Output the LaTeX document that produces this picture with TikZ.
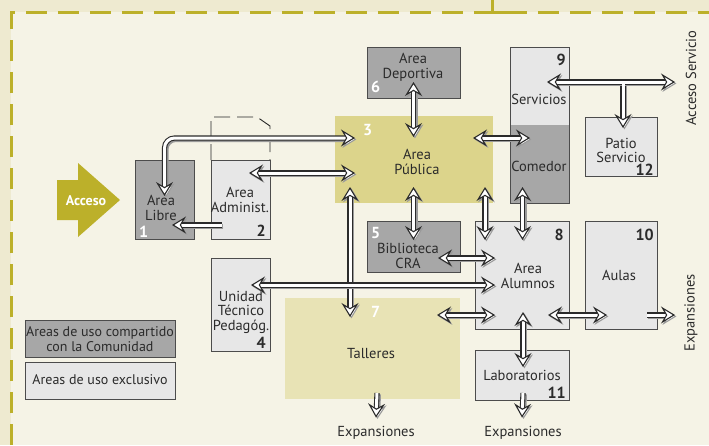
\documentclass[tikz,border=0pt]{standalone}
\usepackage{fontspec}
\setmainfont{PT Sans}
\usetikzlibrary{arrows.meta,calc}
\definecolor{outerbg}{HTML}{EEEAD0}
\definecolor{innerbg}{HTML}{F5F3E6}
\definecolor{olive}{HTML}{BCB02A}
\definecolor{boxdark}{HTML}{A7A7A7}
\definecolor{boxlight}{HTML}{E7E7E7}
\definecolor{pubfill}{HTML}{DCD48B}
\definecolor{tallfill}{HTML}{E8E3B5}
\definecolor{ink}{HTML}{2B2B2B}
\definecolor{shade}{HTML}{9A9A9A}
\newcommand\lblfont{\fontsize{14.5}{15}\selectfont}
\newcommand\numfont{\fontsize{16}{16}\selectfont\bfseries}
\begin{document}
\begin{tikzpicture}[x=1pt,y=-1pt,
  box/.style={draw=black!70, line width=0.8pt, inner sep=0pt, outer sep=0pt},
  darkbox/.style={box, fill=boxdark},
  lightbox/.style={box, fill=boxlight},
  zone/.style={inner sep=0pt, outer sep=0pt},
  lbl/.style={text=ink, font=\lblfont, align=center, inner sep=0pt, anchor=base},
  num/.style={text=ink, font=\numfont, inner sep=0pt},
  wnum/.style={num, text=white, anchor=base west},
  dnum/.style={num, anchor=base east},
  >={Stealth[length=14pt,width=17pt,inset=5pt,fill=white,line width=1.1pt]},
  flow/.style={draw=ink, line width=1.1pt, double=white, double distance=3pt,
    preaction={draw=shade, double=shade, transform canvas={shift={(1.4pt,-1.4pt)}}}},
]
\useasboundingbox (0,0) rectangle (709,445);
% background and site boundary
\fill[outerbg] (0,0) rectangle (709,445);
\fill[innerbg] (11,12) rectangle (709,445);
\draw[olive, line width=3pt, dash pattern=on 21pt off 11pt] (11,445) -- (11,12) -- (709,12);
\draw[olive, line width=3pt] (492,0) -- (492,12) -- (512,12);

% entrance arrow
\fill[olive] (57,180) -- (78,180) -- (78,163) -- (120,200) -- (78,237) -- (78,220) -- (57,220) -- cycle;
\node[font=\fontsize{14}{14}\selectfont\bfseries, text=white, anchor=base, inner sep=0pt] (acceso) at (86,205) {Acceso};

% zones
\node[zone, fill=pubfill, minimum width=158pt, minimum height=87pt] (pub) at (414,159.5) {};
\node[zone, fill=tallfill, minimum width=175pt, minimum height=101pt] (tall) at (372.5,348.5) {};

% boxes
\node[darkbox, minimum width=59pt, minimum height=79pt] (libre) at (164.5,199.5) {};
\node[lightbox, minimum width=59pt, minimum height=79pt] (admin) at (240.5,199.5) {};
\node[darkbox, minimum width=93pt, minimum height=51pt] (dep) at (413.5,72.5) {};
\node[zone, fill=boxlight, minimum width=59pt, minimum height=78pt] (serv) at (539.5,86) {};
\node[zone, fill=boxdark, minimum width=59pt, minimum height=78pt] (com) at (539.5,164) {};
\draw[draw=black!70, line width=0.8pt] (serv.north west) rectangle (com.south east);
\node[lightbox, minimum width=72pt, minimum height=59pt] (patio) at (621,146.5) {};
\node[darkbox, minimum width=93pt, minimum height=51pt] (bib) at (413.5,246.5) {};
\node[lightbox, minimum width=94pt, minimum height=108pt] (alum) at (522,275) {};
\node[lightbox, minimum width=72pt, minimum height=108pt] (aulas) at (621,275) {};
\node[lightbox, minimum width=94pt, minimum height=50pt] (lab) at (522,375) {};
\node[lightbox, minimum width=59pt, minimum height=93pt] (utp) at (240.5,304.5) {};

% future extension of the administration block
\draw[black!85, line width=0.9pt, dash pattern=on 16pt off 7pt] (admin.north west) -- ++(0,-43) -- ++(46,0) -- ++(13,9) -- (admin.north east);

% legend
\node[darkbox, minimum width=150pt, minimum height=37pt] (leg1) at (100,338.5) {};
\node[lightbox, minimum width=150pt, minimum height=37pt] (leg2) at (100,380.5) {};
\node[lbl, font=\fontsize{14}{15}\selectfont] at (100,351) {Areas de uso compartido\\con la Comunidad};
\node[lbl, font=\fontsize{14}{15}\selectfont] at (100,384) {Areas de uso exclusivo};

% labels (multi-line nodes are placed by the baseline of their last line)
\node[lbl] at (161,220) {Area\\Libre};
\node[lbl] at (240,212) {Area\\Administ.};
\node[lbl] at (417,174) {Area\\Pública};
\node[lbl] at (413,78) {Area\\Deportiva};
\node[lbl] at (539,104) {Servicios};
\node[lbl] at (539,171) {Comedor};
\node[lbl, font=\fontsize{14.5}{13.5}\selectfont] at (621,162) {Patio\\Servicio};
\node[lbl] at (408,268) {Biblioteca\\CRA};
\node[lbl] at (528,288) {Area\\Alumnos};
\node[lbl] at (619,280) {Aulas};
\node[lbl] at (371,358) {Talleres};
\node[lbl] at (522,380) {Laboratorios};
\node[lbl, font=\fontsize{14.5}{14.5}\selectfont] at (241,330) {Unidad\\Técnico\\Pedagóg.};
\node[lbl] (exp1) at (376,436) {Expansiones};
\node[lbl] (exp2) at (523,436) {Expansiones};
\node[text=ink, font=\lblfont, inner sep=0pt, rotate=90, anchor=center] (accserv) at (691,78) {Acceso Servicio};
\node[text=ink, font=\lblfont, inner sep=0pt, rotate=90, anchor=center] (expr) at (691,313) {Expansiones};

% numbers
\node[wnum] at (139,237) {1};
\node[dnum] at (266,236) {2};
\node[wnum] at (363,135) {3};
\node[dnum] at (266,348) {4};
\node[wnum] at (371,238) {5};
\node[wnum] at (371,92) {6};
\node[wnum] at (371,317) {7};
\node[dnum] at (564,240) {8};
\node[dnum] at (566,65) {9};
\node[dnum] at (654,240) {10};
\node[dnum] at (566,398) {11};
\node[dnum] at (654,175) {12};

% circulation
\coordinate (accsE) at (675,82);
\coordinate (exprW) at (675,315);
\draw[flow, rounded corners=10pt, <->] ($(pub.north west)+(20,22)$) -| ($(libre.north)+(0,36)$);
\draw[flow, <->] ($(admin.north west)+(38,13)$) -- ($(pub.north west)+(20,57)$);
\draw[flow, ->] ($(admin.south west)+(11,-14)$) -- ($(libre.south east)+(-22,-14)$);
\draw[flow, <->] ($(pub.south west)+(15,-16)$) -- ($(tall.north west)+(65,19)$);
\draw[flow, <->] ($(utp.north west)+(40,27)$) -- ($(alum.west)+(20,10)$);
\draw[flow, <->] ($(dep.south)+(0,-16)$) -- ($(pub.north)+(-0.5,21)$);
\draw[flow, <->] ($(pub.south)+(-0.5,-16)$) -- ($(bib.north)+(0,19)$);
\draw[flow, <->] ($(pub.north east)+(-20,22)$) -- ($(com.north west)+(20,13)$);
\draw[flow, <->] ($(pub.south east)+(-8,-16)$) -- ($(alum.north west)+(10,19)$);
\draw[flow, <->] ($(com.south)+(-17,-16)$) -- ($(alum.north)+(0.5,19)$);
\draw[flow, ->] ($(serv.north west)+(113,35)$) -- ($(patio.north)+(2,11)$);
\draw[flow, <->] ($(serv.north west)+(37,35)$) -- (accsE);
\draw[white, line width=3pt] ($(serv.north west)+(113,35)$) -- ++(0,6);
\draw[flow, <->] ($(bib.east)+(-22,11.5)$) -- ($(alum.west)+(20,-17)$);
\draw[flow, <->] ($(tall.north east)+(-23,17)$) -- ($(alum.south west)+(20,-14)$);
\draw[flow, <->] ($(alum.south)+(1,-17)$) -- ($(lab.north)+(1,17)$);
\draw[flow, <->] ($(alum.south east)+(-21,-14)$) -- ($(aulas.south west)+(22,-14)$);
\draw[flow, ->] ($(aulas.south east)+(-10,-14)$) -- (exprW);
\draw[flow, ->] ($(tall.south)+(4.5,-6)$) -- ($(exp1.north)+(0,-8)$);
\draw[flow, ->] ($(lab.south)+(1,-7)$) -- ($(exp2.north)+(-1,-8)$);
\end{tikzpicture}
\end{document}
